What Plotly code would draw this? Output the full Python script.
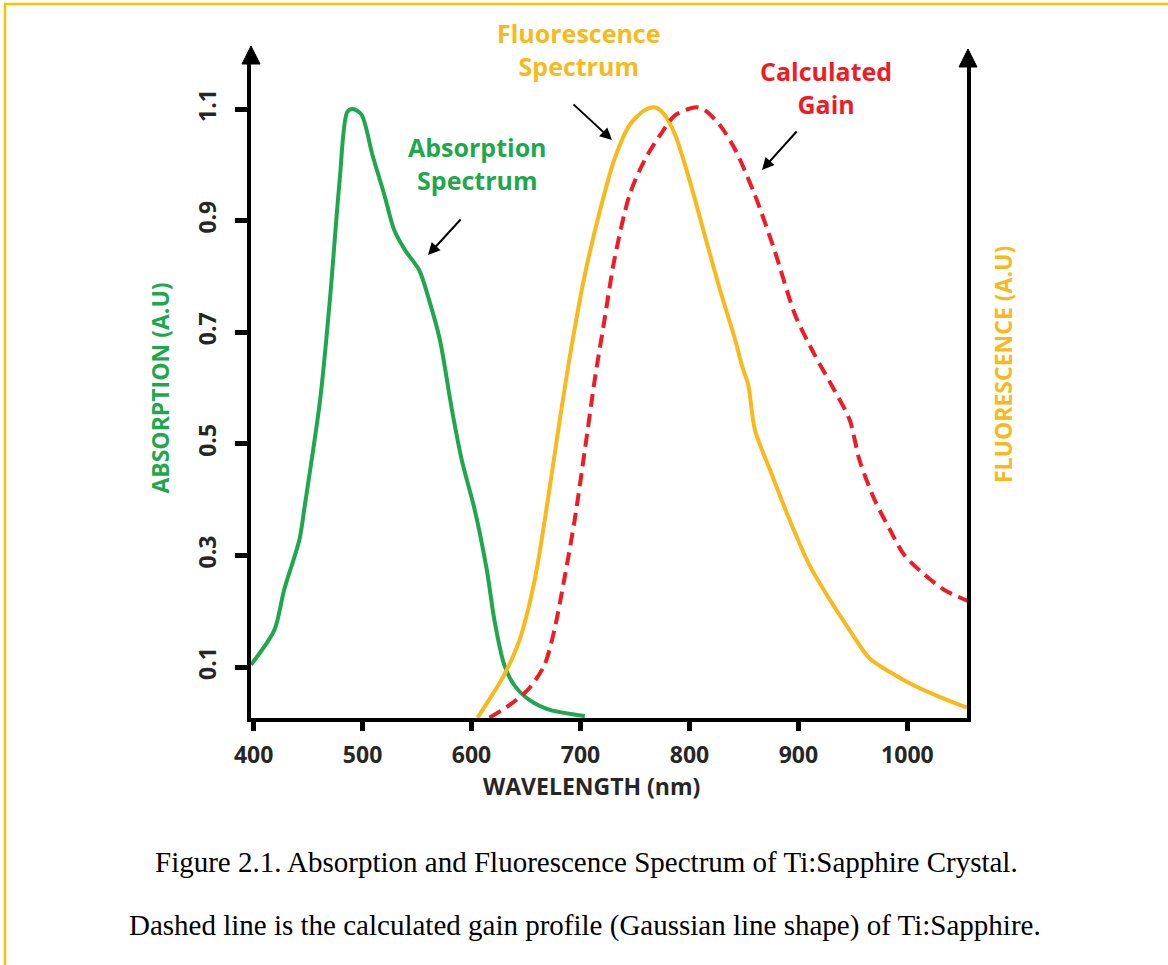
import plotly.graph_objects as go

# ---------------- data ----------------
abs_nm = [397.6, 419, 428, 442, 447, 461, 470, 479, 486, 491, 499, 509, 520, 529, 539,
          552, 561, 571, 582, 591, 603, 614, 621, 630, 639, 653, 672, 704]
abs_val = [0.104, 0.166, 0.238, 0.328, 0.390, 0.578, 0.758, 0.973, 1.095, 1.100, 1.090,
           1.018, 0.946, 0.883, 0.847, 0.811, 0.758, 0.686, 0.561, 0.471, 0.381, 0.274,
           0.184, 0.104, 0.068, 0.041, 0.023, 0.012]

flu_nm = [605.5, 616, 630, 644, 658, 670, 681, 692, 704, 718, 731, 745, 759, 768, 777, 787,
          800, 814, 828, 842, 848, 854, 860, 874, 892, 910, 929, 947, 965, 984, 1002, 1030,
          1054.7]
flu_val = [0.009, 0.041, 0.086, 0.148, 0.256, 0.399, 0.543, 0.677, 0.803, 0.919, 1.009,
           1.071, 1.098, 1.103, 1.090, 1.053, 0.973, 0.874, 0.776, 0.686, 0.641, 0.605,
           0.525, 0.453, 0.363, 0.283, 0.220, 0.166, 0.116, 0.091, 0.071, 0.046, 0.027]

gain_nm = [616.5, 635, 653, 667, 676, 685, 694.6, 704, 713, 722, 731, 745, 759, 773, 787,
           806, 814, 828, 842, 860, 878, 897, 915, 933, 947, 956, 970, 984, 997, 1016, 1034,
           1056]
gain_val = [0.009, 0.032, 0.062, 0.104, 0.166, 0.256, 0.363, 0.489, 0.614, 0.722, 0.829,
            0.946, 1.009, 1.053, 1.089, 1.103, 1.098, 1.071, 1.027, 0.946, 0.847, 0.731,
            0.659, 0.596, 0.543, 0.471, 0.399, 0.346, 0.301, 0.265, 0.238, 0.218]

x_ticks = [400, 500, 600, 700, 800, 900, 1000]
y_ticks = [0.1, 0.3, 0.5, 0.7, 0.9, 1.1]

GREEN = "#1FA74E"
ORANGE = "#F8B91C"
RED = "#EE1C25"
DARK = "#262626"
BORDER = "#FFC000"

# ---------------- layout geometry (pixels) ----------------
W, H = 1168, 965
L, R, T, B = 251, 967, 58, 718


def pxx(p):
    return (p - L) / (R - L)


def pxy(p):
    return (B - p) / (B - T)


fig = go.Figure()
fig.add_trace(go.Scatter(x=abs_nm, y=abs_val, mode="lines", name="Absorption Spectrum",
                         line=dict(color=GREEN, width=4, shape="spline", smoothing=0.8),
                         yaxis="y"))
fig.add_trace(go.Scatter(x=flu_nm, y=flu_val, mode="lines", name="Fluorescence Spectrum",
                         line=dict(color=ORANGE, width=4, shape="spline", smoothing=0.8),
                         yaxis="y2"))
fig.add_trace(go.Scatter(x=gain_nm, y=gain_val, mode="lines", name="Calculated Gain",
                         line=dict(color=RED, width=4, dash="13px,7px", shape="spline",
                                   smoothing=0.8),
                         yaxis="y2"))

yrange = [0.0086, 1.1914]
tickfont = dict(family="Open Sans", size=23, color=DARK, weight="bold")
title_font = dict(family="Open Sans", size=23, weight="bold")

fig.update_layout(
    width=W, height=H,
    margin=dict(l=L, r=W - R, t=T, b=H - B, pad=0),
    paper_bgcolor="white", plot_bgcolor="white",
    showlegend=False,
    xaxis=dict(range=[397.6, 1054.7], tickvals=x_ticks, ticks="outside", ticklen=9,
               tickwidth=5, tickcolor="black", showline=True, linewidth=4, linecolor="black",
               showgrid=False, zeroline=False, tickfont=tickfont, ticklabelstandoff=4),
    yaxis=dict(range=yrange, tickvals=y_ticks, tickformat=".1f", ticks="outside", ticklen=12,
               tickwidth=5, tickcolor="black", showline=True, linewidth=4, linecolor="black",
               showgrid=False, zeroline=False, tickangle=-90, tickfont=tickfont,
               ticklabelstandoff=10,
               title=dict(text="ABSORPTION (A.U)", standoff=16,
                          font=dict(color=GREEN, **title_font))),
    yaxis2=dict(range=yrange, overlaying="y", side="right", showline=True, linewidth=4,
                linecolor="black", showgrid=False, zeroline=False, showticklabels=False,
                ticks=""),
)

# axis arrowheads
shapes = []
for tip_x, tip_y, base_y, half in [(251, 46, 64, 9), (968, 49, 67, 9)]:
    path = "M {} {} L {} {} L {} {} Z".format(pxx(tip_x), pxy(tip_y), pxx(tip_x - half),
                                             pxy(base_y), pxx(tip_x + half), pxy(base_y))
    shapes.append(dict(type="path", path=path, xref="paper", yref="paper",
                       fillcolor="black", line=dict(color="black", width=1)))
# page border (left and top)
shapes.append(dict(type="line", xref="paper", yref="paper", x0=pxx(5), y0=pxy(H + 5),
                   x1=pxx(5), y1=pxy(4), line=dict(color=BORDER, width=2.5)))
shapes.append(dict(type="line", xref="paper", yref="paper", x0=pxx(4), y0=pxy(4),
                   x1=pxx(W + 5), y1=pxy(4), line=dict(color=BORDER, width=2.5)))
fig.update_layout(shapes=shapes)

lab_font = dict(family="Open Sans", size=25, weight="bold")
annotations = [
    dict(text="Fluorescence<br>Spectrum", x=pxx(579), y=pxy(50), font=dict(color=ORANGE, **lab_font)),
    dict(text="Calculated<br>Gain", x=pxx(826), y=pxy(87), font=dict(color=RED, **lab_font)),
    dict(text="Absorption<br>Spectrum", x=pxx(477), y=pxy(163), font=dict(color=GREEN, **lab_font)),
    dict(text="WAVELENGTH (nm)", x=pxx(591), y=pxy(786), font=dict(color=DARK, **title_font)),
    dict(text="FLUORESCENCE (A.U)", x=pxx(1003), y=pxy(365), textangle=-90,
         font=dict(color=ORANGE, **title_font)),
]
for a in annotations:
    a.update(xref="paper", yref="paper", showarrow=False, xanchor="center", yanchor="middle",
             align="center")

# pointer arrows (head position, tail offset in pixels)
for hx, hy, tx, ty in [(612, 140, 572, 103), (762, 170, 798, 130), (428, 255, 462, 218)]:
    annotations.append(dict(x=pxx(hx), y=pxy(hy), xref="paper", yref="paper", text="",
                            showarrow=True, ax=tx - hx, ay=ty - hy, arrowhead=2,
                            arrowsize=1.2, arrowwidth=2, arrowcolor="black"))

cap_font = dict(family="Liberation Serif", size=29, color="black")
annotations.append(dict(text="Figure 2.1. Absorption and Fluorescence Spectrum of Ti:Sapphire Crystal.",
                        x=pxx(586), y=pxy(862), xref="paper", yref="paper", showarrow=False,
                        xanchor="center", yanchor="middle", font=cap_font))
annotations.append(dict(text="Dashed line is the calculated gain profile (Gaussian line shape) of Ti:Sapphire.",
                        x=pxx(585), y=pxy(925), xref="paper", yref="paper", showarrow=False,
                        xanchor="center", yanchor="middle", font=cap_font))
fig.update_layout(annotations=annotations)

fig.write_html("out.html", config={"displayModeBar": False},
               post_script="document.body.style.margin='0';document.body.style.overflow='hidden';")
